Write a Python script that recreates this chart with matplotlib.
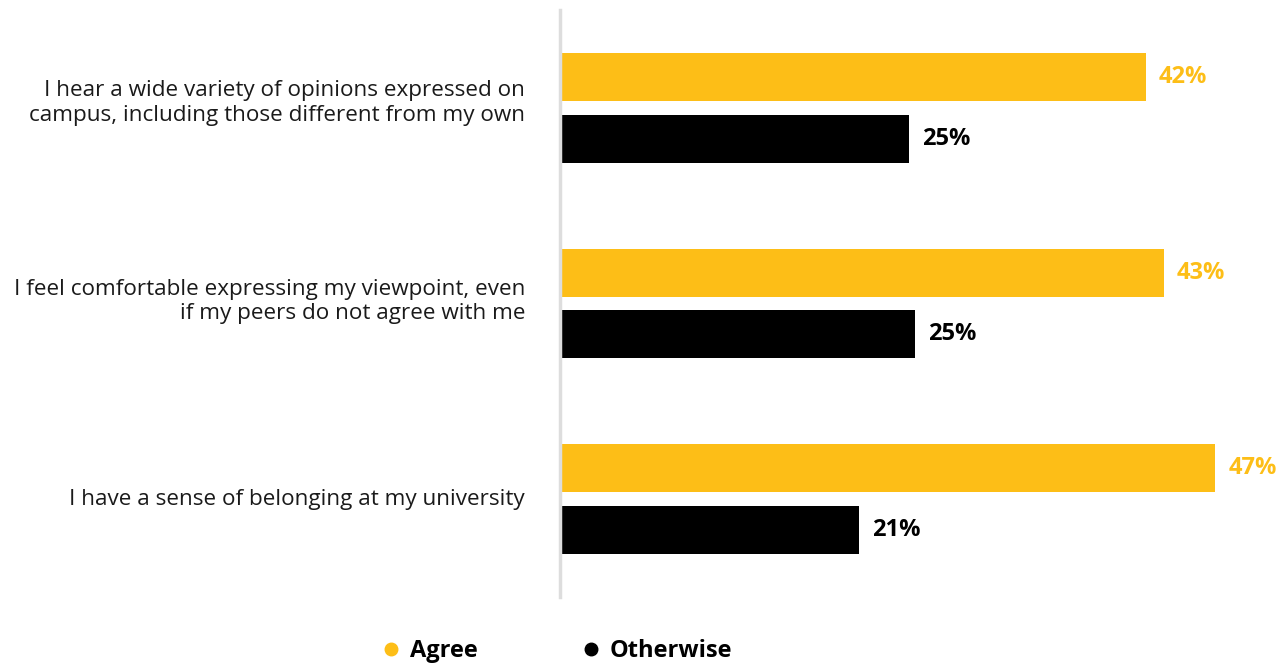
import matplotlib
matplotlib.use("Agg")
import matplotlib.pyplot as plt
from matplotlib.lines import Line2D

plt.rcParams['font.family'] = ['Open Sans', 'DejaVu Sans']

categories = [
    "I hear a wide variety of opinions expressed on\ncampus, including those different from my own",
    "I feel comfortable expressing my viewpoint, even\nif my peers do not agree with me",
    "I have a sense of belonging at my university",
]
agree = [42.0, 43.3, 47.0]
otherwise = [25.0, 25.4, 21.4]
agree_labels = ["42%", "43%", "47%"]
otherwise_labels = ["25%", "25%", "21%"]
series_names = ["Agree", "Otherwise"]

YELLOW = "#FDBE17"
BLACK = "#000000"

W, H = 1287, 664
fig = plt.figure(figsize=(W / 100, H / 100), dpi=100)
ax_left, ax_right = 560, 1287
ax_top, ax_bot = 10, 597
ax = fig.add_axes([ax_left / W, 1 - ax_bot / H, (ax_right - ax_left) / W, (ax_bot - ax_top) / H])

scale = 13.91  # px per percent
ax.set_xlim(0, (ax_right - ax_left) / scale)
ax.set_ylim(2.5, -0.5)

bh = 0.245
off = 0.157
ypos = list(range(len(categories)))
ya = [y - off for y in ypos]
yo = [y + off for y in ypos]
ax.barh(ya, agree, height=bh, color=YELLOW, left=0.1)
ax.barh(yo, otherwise, height=bh, color=BLACK, left=0.1)

for y, v, t in zip(ya, agree, agree_labels):
    ax.text(v + 1.05, y, t, color=YELLOW, fontsize=17, fontweight='bold', va='center', ha='left')
for y, v, t in zip(yo, otherwise, otherwise_labels):
    ax.text(v + 1.05, y, t, color=BLACK, fontsize=17, fontweight='bold', va='center', ha='left')

label_dy = [-0.025, -0.01, 0.0]
for y, c, d in zip(ypos, categories, label_dy):
    ax.text(-35 / scale, y + d, c, fontsize=16.2, color="#1a1a1a", ha='right', va='center',
            linespacing=1.22, multialignment='right')
ax.set_yticks([])
ax.set_xticks([])
for s in ['top', 'right', 'bottom']:
    ax.spines[s].set_visible(False)
ax.spines['left'].set_color('#DDDDDD')
ax.spines['left'].set_linewidth(2.5)

handles = [
    Line2D([0], [0], marker='o', color='none', markerfacecolor=YELLOW, markeredgecolor=YELLOW, markersize=9),
    Line2D([0], [0], marker='o', color='none', markerfacecolor=BLACK, markeredgecolor=BLACK, markersize=9),
]
leg = fig.legend(handles, series_names, loc='center', bbox_to_anchor=(556 / W, 1 - 651 / H), ncol=2,
                 frameon=False, handletextpad=0.3, columnspacing=4.3, handlelength=1.0,
                 prop={'weight': 'bold', 'size': 17})

fig.savefig("out.png", dpi=100, facecolor='white')
